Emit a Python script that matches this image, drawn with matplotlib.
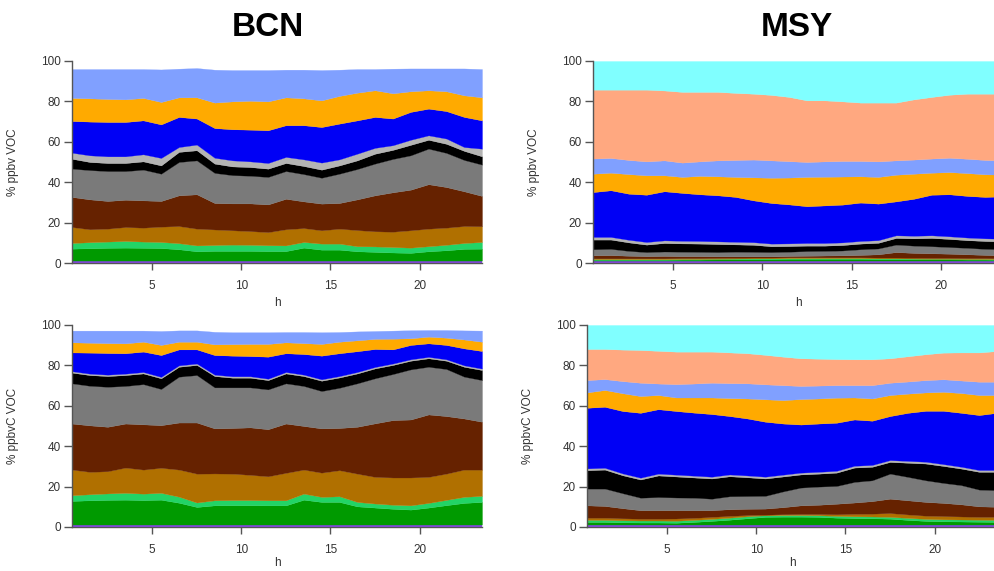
import numpy as np
import matplotlib
matplotlib.use("Agg")
import matplotlib.pyplot as plt

plt.rcParams["font.family"] = ["Liberation Sans", "DejaVu Sans"]

# ------------------------------------------------------------
# DATA: upper edge (cumulative %) of each stacked layer, hourly
# ------------------------------------------------------------
hours = np.arange(24) + 0.5

layer_colors = ["#8a44ee", "#009a00", "#22d466", "#b07000", "#662200",
                "#7a7a7a", "#000000", "#b4b4b4", "#0000f5", "#ffaa00",
                "#80a0ff", "#ffa880", "#80ffff"]

bcn_ppbv = [
    [1.2] * 24,
    [7.1, 7.3, 7.5, 7.6, 7.5, 7.4, 6.8, 5.8, 6.0, 6.0, 6.0, 5.9, 5.9, 7.6, 6.6, 6.6, 5.8, 5.5, 5.2, 5.0, 5.8, 6.3, 7.0, 7.1],
    [9.9, 10.3, 10.6, 10.9, 10.6, 10.4, 9.8, 8.7, 8.9, 9.1, 9.0, 8.8, 8.7, 10.4, 9.6, 9.6, 8.3, 8.2, 7.9, 7.6, 8.3, 9.0, 9.9, 10.4],
    [17.8, 16.7, 17.0, 17.8, 17.5, 18.0, 18.3, 17.0, 16.6, 16.2, 15.8, 15.3, 16.7, 17.3, 16.2, 17.0, 16.3, 15.7, 15.5, 16.2, 17.0, 17.5, 18.3, 18.2],
    [32.7, 31.5, 30.7, 31.3, 31.0, 30.7, 33.5, 34.0, 29.7, 29.5, 29.5, 29.0, 31.8, 30.5, 29.4, 29.7, 31.5, 33.5, 35.0, 36.3, 39.0, 37.6, 35.5, 33.2],
    [46.7, 46.0, 45.5, 45.5, 46.2, 44.2, 50.0, 50.8, 44.6, 43.5, 43.2, 42.6, 45.5, 44.0, 42.2, 44.2, 46.5, 49.2, 51.5, 53.3, 56.6, 54.5, 51.0, 48.7],
    [51.6, 50.0, 49.5, 49.5, 50.3, 48.3, 55.0, 55.8, 49.2, 47.8, 47.5, 46.7, 49.5, 48.0, 46.2, 48.3, 50.8, 54.1, 56.0, 58.5, 61.0, 59.0, 55.5, 52.8],
    [54.6, 53.3, 52.8, 52.8, 53.8, 52.0, 57.4, 58.6, 52.1, 50.8, 50.3, 49.5, 52.5, 51.3, 49.7, 51.3, 54.1, 57.0, 58.3, 61.0, 63.2, 61.6, 57.4, 56.6],
    [70.3, 70.0, 69.8, 69.8, 70.6, 68.6, 72.3, 71.5, 66.8, 66.2, 66.0, 65.7, 68.2, 68.2, 67.3, 69.0, 70.6, 72.3, 71.5, 74.8, 76.4, 75.2, 72.3, 70.6],
    [81.7, 81.5, 81.2, 81.0, 81.7, 79.7, 82.0, 82.0, 79.4, 80.0, 80.3, 80.0, 82.0, 81.5, 80.5, 82.7, 84.3, 85.5, 84.0, 85.0, 85.5, 85.0, 83.0, 82.0],
    [96.0, 96.0, 96.0, 96.0, 96.0, 95.8, 96.2, 96.5, 95.7, 95.5, 95.5, 95.5, 95.7, 95.7, 95.5, 95.7, 96.0, 96.0, 96.2, 96.3, 96.3, 96.3, 96.3, 96.0],
]

bcn_ppbvc = [
    [1.2] * 24,
    [12.9, 13.2, 13.4, 13.5, 13.3, 13.5, 12.0, 9.9, 10.7, 10.8, 10.8, 10.7, 10.7, 13.5, 12.4, 12.4, 10.2, 9.6, 9.0, 8.6, 9.6, 10.8, 11.9, 12.4],
    [15.7, 16.2, 16.6, 16.9, 16.5, 16.9, 15.0, 12.1, 13.2, 13.3, 13.3, 13.2, 13.2, 16.5, 14.9, 15.2, 12.4, 11.6, 11.0, 10.7, 11.9, 13.4, 14.9, 15.4],
    [28.4, 27.3, 27.6, 29.4, 28.4, 29.3, 28.4, 26.4, 26.5, 26.4, 25.8, 25.1, 26.8, 28.4, 26.9, 28.1, 26.4, 24.8, 24.5, 24.5, 24.8, 26.4, 28.4, 28.4],
    [51.2, 50.3, 49.6, 51.2, 50.8, 50.4, 51.7, 51.7, 48.8, 49.0, 49.3, 48.4, 51.2, 50.0, 48.8, 49.0, 49.6, 51.3, 52.9, 53.2, 55.7, 54.9, 53.7, 52.1],
    [71.1, 69.9, 69.4, 69.8, 70.7, 68.3, 74.4, 75.2, 69.1, 69.1, 69.1, 68.1, 71.1, 69.8, 67.3, 68.9, 71.1, 73.6, 75.7, 78.0, 79.3, 78.2, 74.4, 72.7],
    [76.4, 75.2, 74.7, 75.2, 76.0, 73.6, 79.3, 80.2, 74.7, 73.9, 73.9, 72.7, 76.0, 74.7, 72.4, 74.0, 76.0, 78.5, 80.2, 82.3, 83.5, 82.3, 79.3, 77.7],
    [77.1, 75.9, 75.4, 75.9, 76.7, 74.3, 80.0, 80.9, 75.4, 74.6, 74.6, 73.4, 76.7, 75.4, 73.1, 74.7, 76.7, 79.2, 80.9, 83.0, 84.2, 83.0, 80.0, 78.4],
    [86.4, 86.3, 86.1, 86.0, 86.8, 85.1, 87.9, 87.9, 85.1, 84.8, 84.6, 84.3, 86.0, 85.6, 84.8, 86.0, 87.0, 88.1, 87.9, 90.1, 90.9, 90.1, 88.4, 87.1],
    [91.4, 91.2, 91.0, 90.9, 91.7, 90.1, 91.7, 91.7, 90.4, 90.5, 90.6, 90.6, 91.4, 91.0, 90.6, 91.7, 92.4, 93.1, 93.2, 93.4, 94.2, 93.7, 92.8, 91.7],
    [97.2, 97.2, 97.2, 97.2, 97.2, 97.0, 97.3, 97.3, 96.6, 96.4, 96.4, 96.4, 96.5, 96.5, 96.4, 96.5, 96.8, 97.0, 97.2, 97.4, 97.5, 97.5, 97.3, 97.2],
]

msy_ppbv = [
    [1.2] * 24,
    [1.6, 1.6, 1.6, 1.6, 1.6, 1.7, 1.7, 1.8, 1.9, 2.0, 2.0, 2.1, 2.1, 2.1, 2.1, 2.1, 2.0, 2.0, 1.9, 1.8, 1.8, 1.7, 1.7, 1.6],
    [1.9, 1.9, 1.9, 1.9, 1.9, 2.0, 2.0, 2.1, 2.2, 2.3, 2.3, 2.4, 2.4, 2.4, 2.4, 2.4, 2.3, 2.3, 2.2, 2.1, 2.1, 2.0, 2.0, 1.9],
    [2.3, 2.3, 2.3, 2.3, 2.3, 2.4, 2.4, 2.5, 2.6, 2.7, 2.7, 2.8, 2.8, 2.8, 2.8, 2.8, 2.7, 2.7, 2.6, 2.5, 2.5, 2.4, 2.4, 2.3],
    [3.8, 3.9, 3.6, 3.4, 3.5, 3.4, 3.4, 3.3, 3.3, 3.3, 3.3, 3.5, 3.6, 3.7, 3.8, 4.0, 4.3, 5.4, 5.0, 4.8, 4.6, 4.3, 4.0, 3.8],
    [6.8, 7.0, 6.0, 5.4, 5.7, 5.6, 5.5, 5.4, 5.6, 5.5, 5.4, 5.6, 5.9, 6.0, 6.2, 6.8, 7.2, 9.1, 8.6, 8.3, 7.9, 7.5, 7.0, 6.8],
    [11.6, 11.6, 10.2, 9.1, 9.9, 9.7, 9.6, 9.4, 9.2, 9.0, 8.3, 8.4, 8.6, 8.6, 8.9, 9.6, 10.0, 12.4, 12.2, 12.4, 11.9, 11.3, 10.9, 10.7],
    [12.9, 12.9, 11.5, 10.4, 11.2, 11.0, 10.9, 10.7, 10.5, 10.3, 9.6, 9.7, 9.9, 9.9, 10.2, 10.9, 11.3, 13.7, 13.5, 13.7, 13.2, 12.6, 12.2, 12.0],
    [35.1, 36.0, 34.3, 33.8, 35.5, 34.7, 34.0, 33.5, 32.7, 31.0, 29.7, 29.0, 28.1, 28.5, 28.9, 29.9, 29.4, 30.5, 31.8, 33.8, 34.0, 33.2, 32.7, 33.0],
    [44.2, 44.7, 44.0, 43.4, 43.4, 42.6, 43.1, 42.9, 42.6, 42.4, 42.2, 42.3, 42.6, 42.7, 42.8, 42.9, 42.6, 43.7, 44.2, 44.7, 45.0, 44.5, 43.9, 43.7],
    [51.7, 52.0, 51.0, 50.3, 50.8, 49.7, 50.3, 50.8, 51.0, 51.2, 50.8, 50.4, 50.0, 50.3, 50.5, 50.5, 50.3, 50.8, 51.2, 51.7, 52.1, 51.6, 51.0, 50.8],
    [85.8, 85.8, 85.8, 85.8, 85.4, 84.7, 84.7, 84.7, 84.2, 83.8, 83.2, 82.2, 80.5, 80.5, 80.0, 79.4, 79.4, 79.4, 81.0, 82.2, 83.3, 83.8, 83.8, 83.8],
    [100.0] * 24,
]

msy_ppbvc = [
    [1.2] * 24,
    [2.5, 2.5, 2.3, 2.2, 2.2, 2.1, 2.5, 3.0, 3.6, 4.3, 5.0, 5.1, 5.1, 5.0, 4.6, 4.4, 4.3, 4.1, 3.5, 3.0, 2.8, 2.7, 2.6, 2.5],
    [3.5, 3.5, 3.3, 3.2, 3.2, 3.1, 3.5, 4.0, 4.6, 5.3, 5.8, 5.9, 5.9, 5.8, 5.5, 5.3, 5.2, 5.0, 4.5, 4.0, 3.8, 3.7, 3.6, 3.5],
    [4.6, 4.6, 4.3, 4.1, 4.1, 4.2, 4.5, 5.0, 5.5, 5.9, 6.1, 6.3, 6.4, 6.4, 6.3, 6.5, 6.6, 6.9, 6.2, 5.6, 5.4, 5.2, 5.0, 5.0],
    [10.7, 10.4, 9.3, 8.3, 8.3, 8.3, 8.3, 8.3, 8.8, 9.0, 9.1, 9.8, 10.7, 11.0, 11.5, 12.1, 12.8, 14.0, 13.2, 12.4, 11.9, 11.2, 10.2, 10.0],
    [19.0, 19.0, 16.7, 14.5, 14.8, 14.6, 14.5, 14.0, 15.2, 15.3, 15.4, 17.6, 19.5, 20.0, 20.3, 22.3, 23.1, 26.4, 24.8, 23.1, 21.8, 20.7, 18.5, 18.2],
    [28.1, 28.4, 25.6, 23.5, 25.5, 25.0, 24.5, 24.0, 25.1, 24.6, 24.0, 25.0, 26.0, 26.4, 26.9, 29.4, 29.8, 32.2, 31.8, 31.4, 30.2, 28.9, 27.3, 27.3],
    [29.0, 29.3, 26.5, 24.4, 26.4, 25.9, 25.4, 24.9, 26.0, 25.5, 24.9, 25.9, 26.9, 27.3, 27.8, 30.3, 30.7, 33.1, 32.7, 32.3, 31.1, 29.8, 28.2, 28.2],
    [59.0, 59.5, 57.4, 56.5, 58.3, 57.4, 56.6, 55.9, 54.9, 53.7, 52.1, 51.2, 50.7, 51.2, 51.6, 53.2, 52.6, 54.9, 56.5, 57.5, 57.5, 56.5, 55.4, 56.5],
    [66.6, 67.8, 66.2, 64.8, 65.3, 64.1, 64.1, 64.1, 63.8, 63.6, 63.2, 62.8, 63.3, 63.6, 64.0, 64.1, 63.6, 65.3, 66.0, 66.6, 66.9, 66.3, 65.3, 65.3],
    [72.7, 73.2, 72.2, 71.4, 71.0, 70.7, 71.0, 71.4, 71.2, 71.1, 70.6, 70.2, 69.8, 70.0, 70.2, 70.2, 70.2, 71.4, 72.0, 72.7, 73.1, 72.5, 71.9, 71.9],
    [88.1, 88.1, 87.8, 87.6, 87.2, 86.8, 86.8, 86.8, 86.4, 86.0, 85.2, 84.3, 83.5, 83.3, 83.1, 83.0, 83.0, 83.5, 84.5, 85.5, 86.3, 86.4, 86.4, 87.1],
    [100.0] * 24,
]

sites = ["BCN", "MSY"]
ylabels = ["% ppbv VOC", "% ppbvC VOC"]

# ------------------------------------------------------------
# FIGURE
# ------------------------------------------------------------
fig = plt.figure(figsize=(9.94, 5.71), dpi=100)

W, H = 0.4125, 0.3538
panels = [
    (bcn_ppbv, [0.0724, 0.5394, W, H], ylabels[0], -0.17),
    (msy_ppbv, [0.5966, 0.5394, W, H], ylabels[0], -0.17),
    (bcn_ppbvc, [0.0724, 0.0771, W, H], ylabels[1], -0.15),
    (msy_ppbvc, [0.5905, 0.0771, W, H], ylabels[1], -0.15),
]

axis_col = "#555555"
for edges, rect, ylab, hpos in panels:
    ax = fig.add_axes(rect)
    lower = np.zeros(len(hours))
    for k, upper in enumerate(edges):
        upper = np.asarray(upper)
        ax.fill_between(hours, lower, upper, color=layer_colors[k],
                        linewidth=0.2, edgecolor=layer_colors[k])
        lower = upper

    ax.set_xlim(0.5, 23.5)
    ax.set_ylim(0, 100)
    ax.set_xticks([5, 10, 15, 20])
    ax.set_yticks([0, 20, 40, 60, 80, 100])
    for s in ["top", "right"]:
        ax.spines[s].set_visible(False)
    for s in ["left", "bottom"]:
        ax.spines[s].set_color(axis_col)
        ax.spines[s].set_linewidth(1.0)
    ax.tick_params(axis="y", direction="out", length=6, width=1,
                   color=axis_col, labelsize=8.5, labelcolor="#333333", pad=2)
    ax.tick_params(axis="x", direction="out", length=5, width=1,
                   color=axis_col, labelsize=8.5, labelcolor="#333333", pad=7)
    ax.set_ylabel(ylab, fontsize=8.5, color="#333333")
    ax.yaxis.set_label_coords(-0.13, 0.5)
    ax.set_xlabel("h", fontsize=8.5, color="#333333")
    ax.xaxis.set_label_coords(0.5, hpos)

fig.text(0.269, 0.951, sites[0], ha="center", va="center",
         fontsize=24, fontweight="bold")
fig.text(0.802, 0.951, sites[1], ha="center", va="center",
         fontsize=24, fontweight="bold")

fig.savefig("out.png", dpi=100)
